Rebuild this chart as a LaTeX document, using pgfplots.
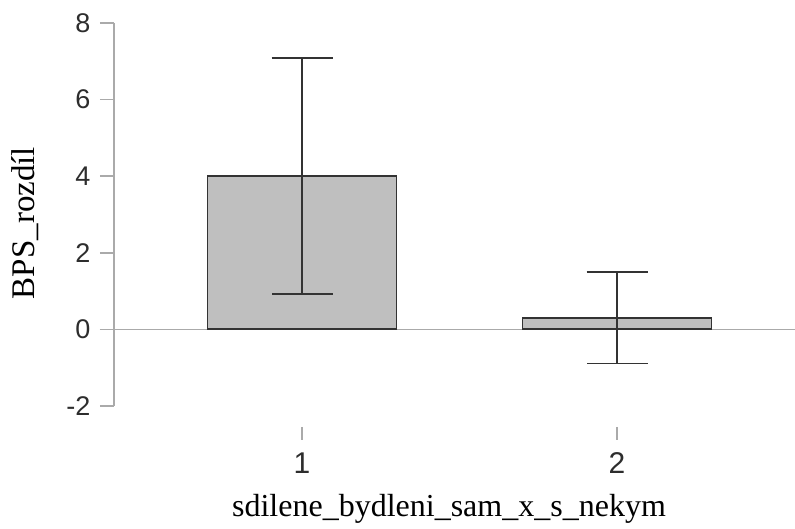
\documentclass[border=0pt]{standalone}
\usepackage{pgfplots}
\pgfplotsset{compat=1.18}
\usepackage{fontspec}
\setmainfont{Liberation Serif}
\newfontfamily\arial{Liberation Sans}
\definecolor{barfill}{RGB}{191,191,191}
\definecolor{dark}{RGB}{51,51,51}
\definecolor{axisgray}{RGB}{170,170,170}
\definecolor{ticklab}{RGB}{45,45,45}
\begin{document}
\begin{tikzpicture}
\useasboundingbox (-114pt,-123pt) rectangle (681pt,406pt);
\begin{axis}[
  at={(0,0)}, anchor=south west,
  scale only axis,
  width=681pt, height=383pt,
  xmin=0.403, xmax=2.565,
  ymin=-2, ymax=8,
  axis y line*=left,
  axis x line=none,
  y axis line style={draw=axisgray, line width=1.5pt},
  ytick={-2,0,2,4,6,8},
  yticklabels={-2,0,2,4,6,8},
  tick align=outside,
  major tick length=14pt,
  ytick style={draw=axisgray, line width=1.5pt},
  yticklabel style={font=\arial\fontsize{27}{27}\selectfont, text=ticklab, xshift=-6pt},
  clip=false,
]
\draw[axisgray, line width=1.5pt] ([xshift=-14pt]axis cs:0.403,0) -- (axis cs:2.565,0);
\addplot[ybar, bar width=0.6, fill=barfill, draw=dark, line width=1.8pt,
  error bars/.cd, y dir=both, y explicit,
  error bar style={draw=dark, line width=1.8pt},
  error mark options={rotate=90, mark size=30.5pt, draw=dark, line width=1.8pt}]
  table[x=x, y=y, y error plus=ep, y error minus=em] {
x y ep em
1 4.00 3.09 3.07
2 0.30 1.19 1.19
};
\draw[axisgray, line width=1.5pt] ([yshift=-21pt]axis cs:1,-2) -- ([yshift=-34pt]axis cs:1,-2);
\draw[axisgray, line width=1.5pt] ([yshift=-21pt]axis cs:2,-2) -- ([yshift=-34pt]axis cs:2,-2);
\node[font=\arial\fontsize{30}{30}\selectfont, text=ticklab] at ([yshift=-57pt]axis cs:1,-2) {1};
\node[font=\arial\fontsize{30}{30}\selectfont, text=ticklab] at ([yshift=-57pt]axis cs:2,-2) {2};
\end{axis}
\node[anchor=base, font=\fontsize{32}{32}\selectfont] at (335pt,-111pt) {sdilene\_bydleni\_sam\_x\_s\_nekym};
\node[rotate=90, font=\fontsize{33}{33}\selectfont] at (-89pt,183pt) {BPS\_rozdíl};
\end{tikzpicture}
\end{document}
